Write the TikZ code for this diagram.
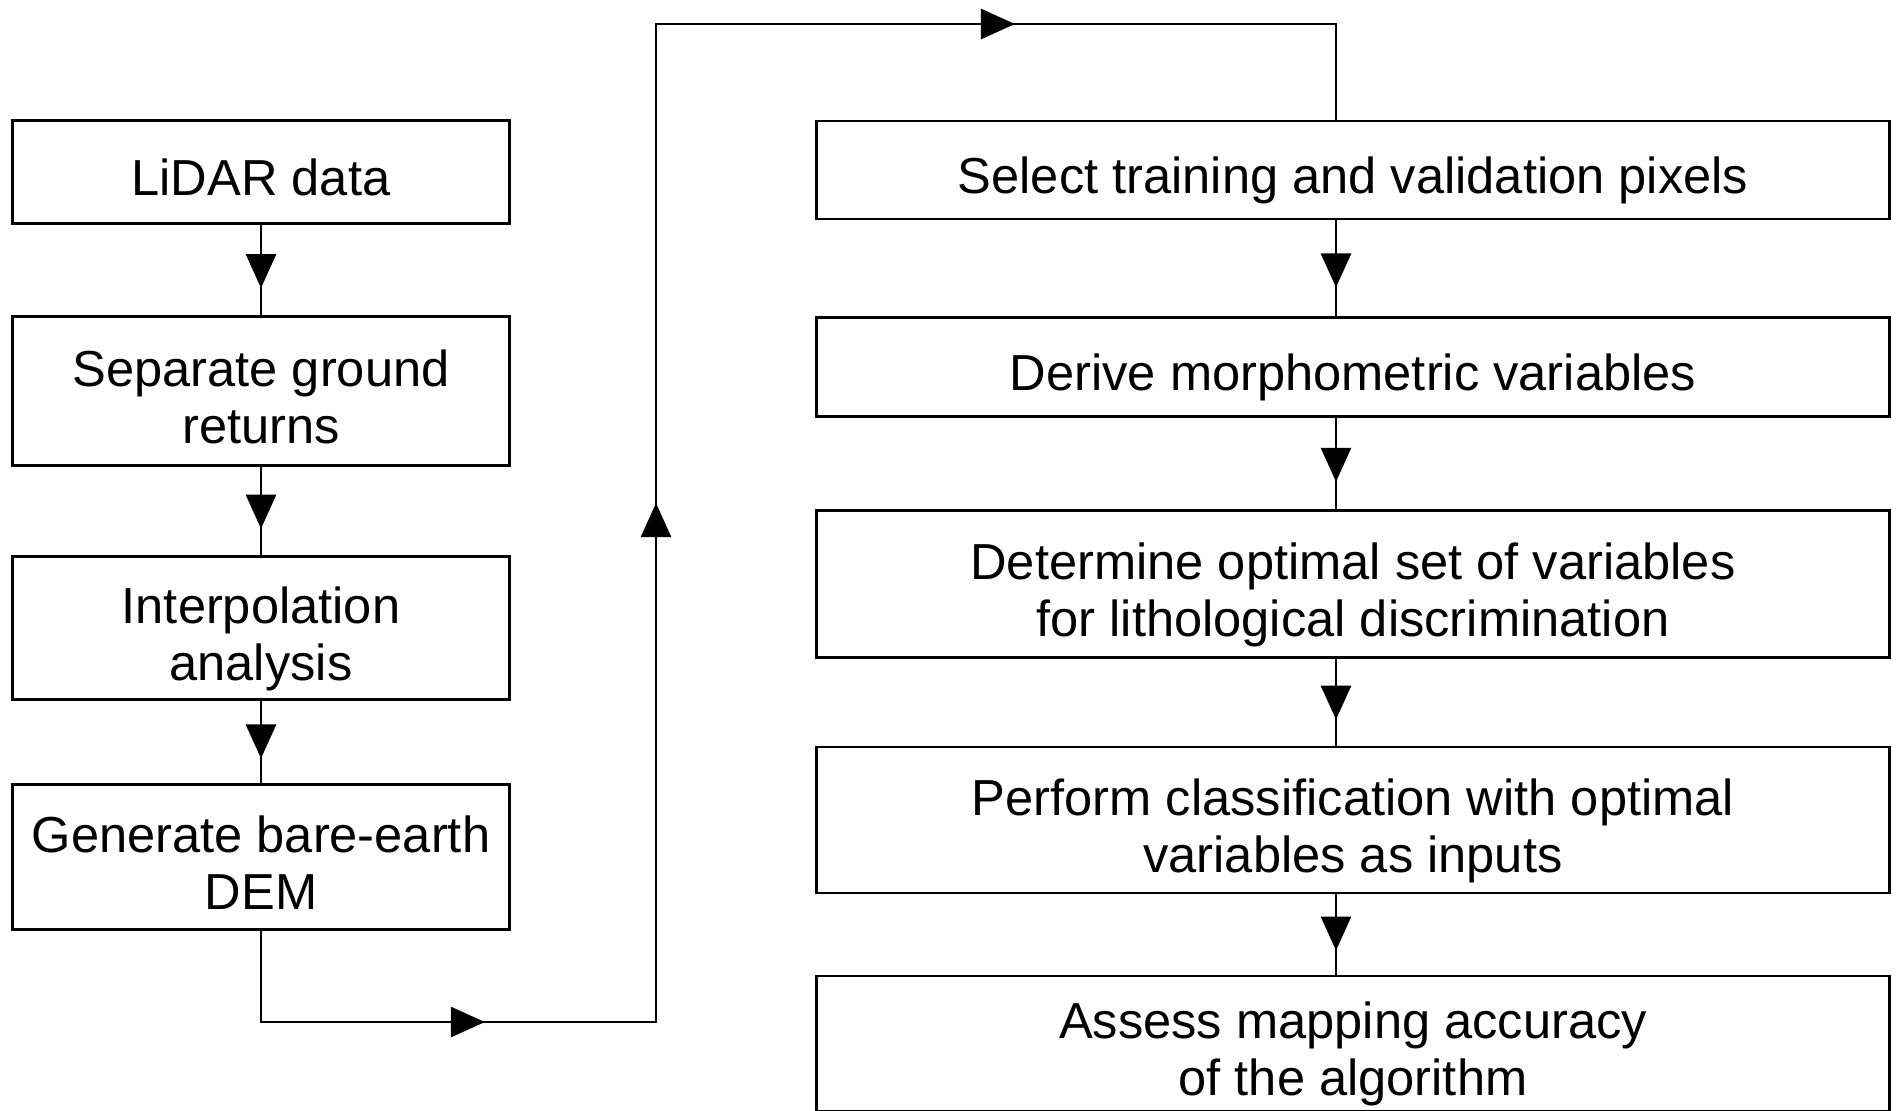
\documentclass[tikz,border=0pt]{standalone}
\usepackage{fontspec}
\setmainfont{Liberation Sans}
\usetikzlibrary{arrows.meta,decorations.markings}
\tikzset{>={Triangle[length=3.4mm,width=3mm]}}
\tikzset{
  boxtext/.style={draw, align=center, inner sep=0pt, font=\fontsize{14.4}{16.3}\selectfont,
    text height=17pt, text depth=3.5pt},
  twoline/.style={text height=33.3pt},
  leftbox/.style={boxtext, minimum width=4.97cm},
  rightbox/.style={boxtext, minimum width=10.73cm},
  flowarr/.style={decoration={markings, mark=at position #1 with {\arrow{>}}}, postaction={decorate}}
}

\begin{document}
\begin{tikzpicture}[line width=0.8pt]
    \useasboundingbox (0,0) rectangle (18.99,-11.10);
    % left column
    \node[leftbox, minimum height=1.03cm] (lidar) at (2.61,-1.72) {LiDAR data};
    \node[leftbox, twoline, minimum height=1.49cm] (ground) at (2.61,-3.91) {Separate ground\\returns};
    \node[leftbox, twoline, minimum height=1.43cm] (interp) at (2.61,-6.28) {Interpolation\\analysis};
    \node[leftbox, twoline, minimum height=1.45cm] (dem) at (2.61,-8.57) {Generate bare-earth\\DEM};
    % right column
    \node[rightbox, minimum height=0.98cm] (pixels) at (13.53,-1.70) {Select training and validation pixels};
    \node[rightbox, minimum height=0.99cm] (morph) at (13.53,-3.67) {Derive morphometric variables};
    \node[rightbox, twoline, minimum height=1.47cm] (optset) at (13.53,-5.84) {Determine optimal set of variables\\for lithological discrimination};
    \node[rightbox, twoline, minimum height=1.46cm] (classify) at (13.53,-8.20) {Perform classification with optimal\\variables as inputs};
    \node[rightbox, twoline, minimum height=1.35cm] (assess) at (13.53,-10.435) {Assess mapping accuracy\\of the algorithm};
    % corners of the link between the columns
    \coordinate (c1) at (2.61,-10.22);
    \coordinate (c2) at (6.56,-10.22);
    \coordinate (c3) at (6.56,-0.24);
    \coordinate (c4) at (13.36,-0.24);

    \draw[flowarr=0.7] (lidar) -- (ground);
    \draw[flowarr=0.7] (ground) -- (interp);
    \draw[flowarr=0.7] (interp) -- (dem);
    \draw[decoration={markings,
        mark=at position 3.15cm with {\arrow{>}},
        mark=at position 10.05cm with {\arrow{>}},
        mark=at position 18.43cm with {\arrow{>}}}, postaction={decorate}]
      (dem.south) -- (c1) -- (c2) -- (c3) -- (c4) -- (c4 |- pixels.north);
    \draw[flowarr=0.7] (pixels.south -| c4) -- (morph.north -| c4);
    \draw[flowarr=0.7] (morph.south -| c4) -- (optset.north -| c4);
    \draw[flowarr=0.7] (optset.south -| c4) -- (classify.north -| c4);
    \draw[flowarr=0.7] (classify.south -| c4) -- (assess.north -| c4);
  \end{tikzpicture}
\end{document}
